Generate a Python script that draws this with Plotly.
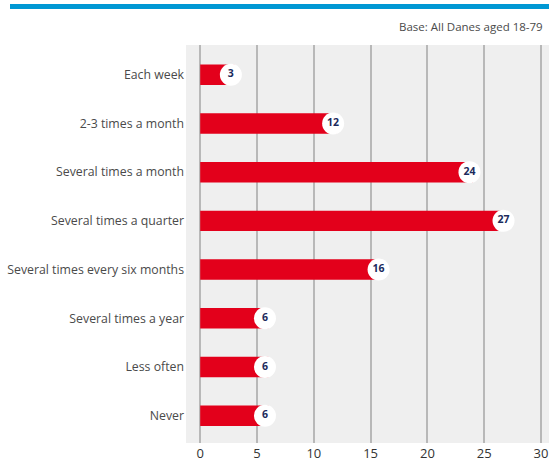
import plotly.graph_objects as go

categories = [
    "Each week",
    "2-3 times a month",
    "Several times a month",
    "Several times a quarter",
    "Several times every six months",
    "Several times a year",
    "Less often",
    "Never",
]
values = [3, 12, 24, 27, 16, 6, 6, 6]
tick_vals = [0, 5, 10, 15, 20, 25, 30]

RED = "#e3001b"
NAVY = "#1b2a5c"
GRID = "#b8b8b8"
BG = "#efefef"

# value badges sit over the end of each bar
badge_x = [v - 0.3 for v in values]

fig = go.Figure()
fig.add_trace(go.Bar(
    x=values, y=categories, orientation="h",
    marker=dict(color=RED, line=dict(width=0)),
    width=0.42, hoverinfo="skip",
))
fig.add_trace(go.Scatter(
    x=badge_x, y=categories, mode="markers+text",
    marker=dict(size=22, color="white", line=dict(width=0)),
    text=[f"<b>{v}</b>" for v in values],
    textposition="middle center",
    textfont=dict(color=NAVY, size=10.5, family="Open Sans"),
    hoverinfo="skip",
))

PLOT_W = 363
PLOT_H = 398

fig.update_layout(
    width=549, height=461,
    margin=dict(l=186, r=0, t=45, b=18),
    paper_bgcolor="white", plot_bgcolor=BG,
    showlegend=False,
    font=dict(family="Open Sans", color="#444444"),
    xaxis=dict(
        range=[-1.25, 30.7], autorange=False, tickvals=tick_vals,
        showgrid=True, gridcolor=GRID, gridwidth=1.5,
        zeroline=False, showline=False, ticks="",
        tickfont=dict(size=13, color="#333333"),
        ticklabelstandoff=1,
    ),
    yaxis=dict(
        categoryorder="array", categoryarray=categories,
        range=[7.56, -0.61], autorange=False,
        showgrid=False, zeroline=False, showline=False, ticks="",
        tickfont=dict(size=12.3, color="#4a4a4a"),
        ticklabelstandoff=1,
    ),
    shapes=[dict(
        type="rect", xref="paper", yref="paper",
        x0=(10 - 186) / PLOT_W, x1=1.0,
        y0=1 + 36 / PLOT_H, y1=1 + 41 / PLOT_H,
        fillcolor="#0098d4", line=dict(width=0),
    )],
    annotations=[dict(
        text="Base: All Danes aged 18-79", xref="paper", yref="paper",
        x=1, y=1 + 18 / PLOT_H, xanchor="right", yanchor="middle",
        xshift=-4, showarrow=False,
        font=dict(size=11.5, color="#4a4a4a"),
    )],
)

fig.write_html("out.html")
